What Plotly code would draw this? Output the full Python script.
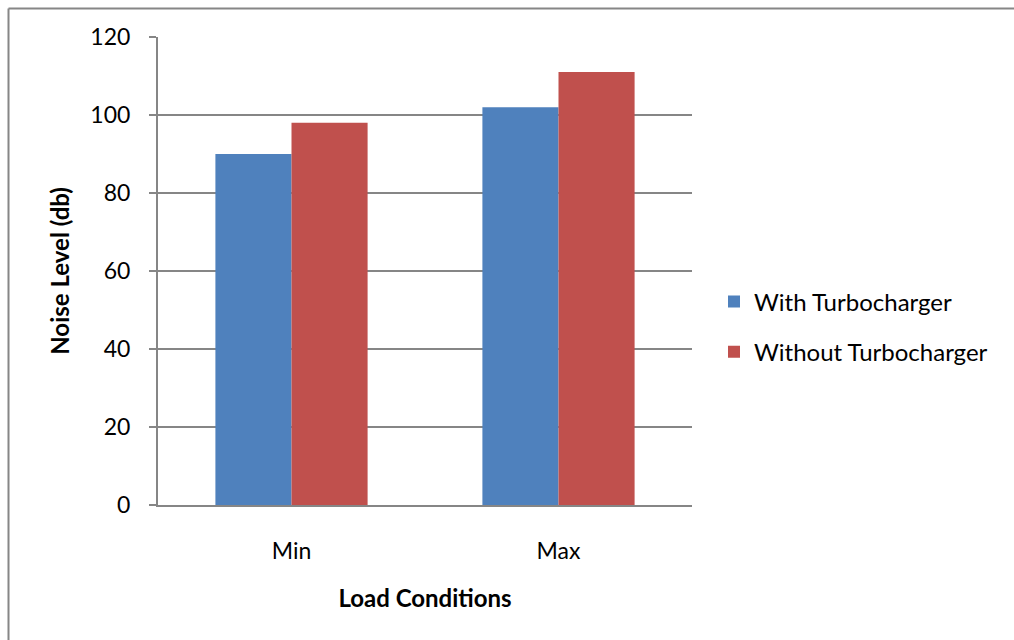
import plotly.graph_objects as go

# Noise level by load condition, with and without turbocharger
categories = ["Min", "Max"]
with_turbo = [90, 102]
without_turbo = [98, 111]
y_ticks = [0, 20, 40, 60, 80, 100, 120]

FONT = "Lato"
GRID = "#868686"

fig = go.Figure()
fig.add_trace(go.Bar(name="With Turbocharger", x=categories, y=with_turbo,
                     marker=dict(color="#4F81BD", line=dict(width=0)),
                     legendgroup="a"))
fig.add_trace(go.Bar(name="Without Turbocharger", x=categories, y=without_turbo,
                     marker=dict(color="#C0504D", line=dict(width=0)),
                     legendgroup="b"))

L, R, T, B = 158, 322, 37, 135
W, H = 1014, 640
pw, ph = W - L - R, H - T - B


def px_x(p):
    return (p - L) / pw


def px_y(p):
    return (H - B - p) / ph


fig.update_layout(
    width=W, height=H,
    margin=dict(l=L, r=R, t=T, b=B),
    paper_bgcolor="white", plot_bgcolor="white",
    barmode="group", bargap=0.43, bargroupgap=0,
    font=dict(family=FONT, size=22, color="black"),
    legend=dict(x=px_x(714), y=px_y(327), xanchor="left", yanchor="middle",
                font=dict(family=FONT, size=24), tracegroupgap=16,
                traceorder="grouped", bgcolor="rgba(0,0,0,0)"),
    xaxis=dict(showline=True, linecolor=GRID, linewidth=2, ticks="",
               ticklabelstandoff=24, tickfont=dict(size=23),
               title=dict(text="<b>Load Conditions</b>", font=dict(size=24), standoff=28)),
    yaxis=dict(range=[0, 120], tickvals=y_ticks, showgrid=True, gridcolor=GRID, gridwidth=1.5,
               showline=True, linecolor=GRID, linewidth=2, ticks="outside", ticklen=7,
               tickcolor=GRID, tickwidth=1.5, ticklabelstandoff=14, tickfont=dict(size=23),
               zeroline=False,
               title=dict(text="<b>Noise Level (db)</b>", font=dict(size=24), standoff=14)),
    shapes=[
        dict(type="line", xref="paper", yref="paper", x0=px_x(8.5), x1=px_x(1030),
             y0=px_y(8.5), y1=px_y(8.5), line=dict(color=GRID, width=2)),
        dict(type="line", xref="paper", yref="paper", x0=px_x(8.5), x1=px_x(8.5),
             y0=px_y(8.5), y1=px_y(660), line=dict(color=GRID, width=2)),
    ],
)

fig.write_html("out.html")
